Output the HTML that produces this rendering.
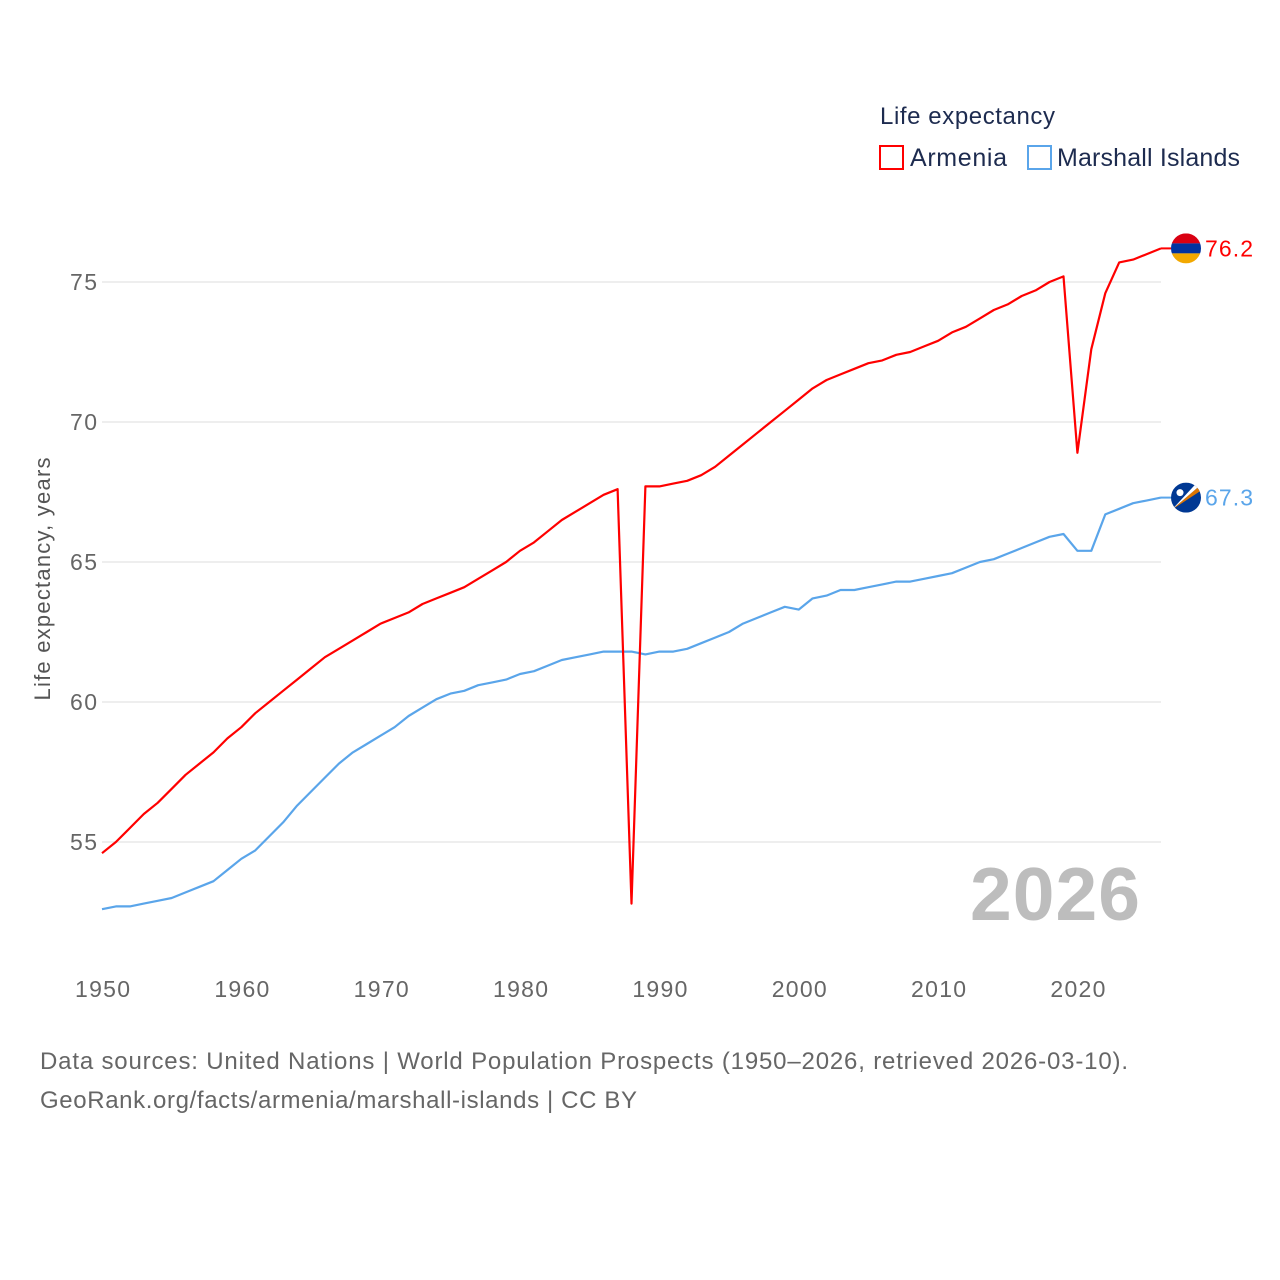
<!DOCTYPE html>
<html><head><meta charset="utf-8"><style>
body{margin:0;background:#fff;}
svg{display:block;font-family:"Liberation Sans",sans-serif;}
</style></head><body>
<svg id="chart" width="1280" height="1280">
<g id="grid"></g><g id="axes"></g><g id="lines"></g>
<text x="880" y="124" font-size="24" fill="#1d2b4f" textLength="175">Life expectancy</text>
<g><rect x="880" y="146" width="23" height="23" fill="none" stroke="#ff0000" stroke-width="2"/><text x="910" y="166" font-size="25" fill="#1d2b4f" textLength="97">Armenia</text></g>
<g><rect x="1028" y="146" width="23" height="23" fill="none" stroke="#5aa5ea" stroke-width="2"/><text x="1057" y="166" font-size="25" fill="#1d2b4f" textLength="183">Marshall Islands</text></g>
<text transform="translate(50,579) rotate(-90)" text-anchor="middle" font-size="22" fill="#555" textLength="243">Life expectancy, years</text>
<text x="1140" y="920" text-anchor="end" font-size="75" font-weight="bold" fill="#bdbdbd" textLength="170">2026</text>
<text x="40" y="1069" font-size="24" fill="#666" textLength="1088">Data sources: United Nations | World Population Prospects (1950–2026, retrieved 2026-03-10).</text>
<text x="40" y="1108" font-size="24" fill="#666" textLength="597">GeoRank.org/facts/armenia/marshall-islands | CC BY</text>
</svg>
<script>
const years=[];for(let y=1950;y<=2026;y++)years.push(y);
const armenia=[54.6,55.0,55.5,56.0,56.4,56.9,57.4,57.8,58.2,58.7,59.1,59.6,60.0,60.4,60.8,61.2,61.6,61.9,62.2,62.5,62.8,63.0,63.2,63.5,63.7,63.9,64.1,64.4,64.7,65.0,65.4,65.7,66.1,66.5,66.8,67.1,67.4,67.6,52.8,67.7,67.7,67.8,67.9,68.1,68.4,68.8,69.2,69.6,70.0,70.4,70.8,71.2,71.5,71.7,71.9,72.1,72.2,72.4,72.5,72.7,72.9,73.2,73.4,73.7,74.0,74.2,74.5,74.7,75.0,75.2,68.9,72.6,74.6,75.7,75.8,76.0,76.2];
const marshall=[52.6,52.7,52.7,52.8,52.9,53.0,53.2,53.4,53.6,54.0,54.4,54.7,55.2,55.7,56.3,56.8,57.3,57.8,58.2,58.5,58.8,59.1,59.5,59.8,60.1,60.3,60.4,60.6,60.7,60.8,61.0,61.1,61.3,61.5,61.6,61.7,61.8,61.8,61.8,61.7,61.8,61.8,61.9,62.1,62.3,62.5,62.8,63.0,63.2,63.4,63.3,63.7,63.8,64.0,64.0,64.1,64.2,64.3,64.3,64.4,64.5,64.6,64.8,65.0,65.1,65.3,65.5,65.7,65.9,66.0,65.4,65.4,66.7,66.9,67.1,67.2,67.3];
const yTicks=[55,60,65,70,75];
const xTicks=[1950,1960,1970,1980,1990,2000,2010,2020];
const X=y=>102+(y-1950)*(1161-102)/76;
const Y=v=>282+(75-v)*28;
const NS='http://www.w3.org/2000/svg';
function mk(tag,attrs,parent){const e=document.createElementNS(NS,tag);for(const k in attrs)e.setAttribute(k,attrs[k]);parent.appendChild(e);return e;}
const grid=document.getElementById('grid'),axes=document.getElementById('axes'),lines=document.getElementById('lines');
yTicks.forEach(t=>{
 const l=mk('line',{x1:102,x2:1161,y1:Y(t),y2:Y(t),stroke:'#e8e8e8','stroke-width':1.5},grid);
 
 
 const tx=mk('text',{x:97,y:Y(t)+8,'text-anchor':'end','font-size':23,fill:'#666',textLength:27},axes);tx.textContent=t;
 
 
});
xTicks.forEach(t=>{
 const tx=mk('text',{x:X(t)-27,y:997,'font-size':23,fill:'#666',textLength:55},axes);tx.textContent=t;
 
 
});
function line(vals,color,name){
 const d=vals.map((v,i)=>(i?'L':'M')+X(years[i]).toFixed(1)+','+Y(v).toFixed(1)).join('');
 const p=mk('path',{d:d,fill:'none',stroke:color,'stroke-width':2.2,'stroke-linejoin':'round'},lines);
 
 
}
line(marshall,'#5aa5ea','marshall-islands-line');
line(armenia,'#ff0000','armenia-line');
function endLabel(vals,color,name,flag){
 const v=vals[vals.length-1],x=X(years[years.length-1]),y=Y(v);
 mk('line',{x1:x,x2:x+10,y1:y,y2:y,stroke:color,'stroke-width':2},lines);
 const g=mk('g',{},lines);
 
 
 flag(g,1186,y);
 const t=mk('text',{x:1205,y:y+8,'font-size':23,fill:color,textLength:48},lines);t.textContent=v.toFixed(1);
 
 
}
endLabel(armenia,'#ff0000','armenia',(g,cx,cy)=>{
 const cp=mk('clipPath',{id:'cpA'},g);mk('circle',{cx:cx,cy:cy,r:15},cp);
 const h=mk('g',{'clip-path':'url(#cpA)'},g);
 mk('rect',{x:cx-15,y:cy-15,width:30,height:10,fill:'#d90012'},h);
 mk('rect',{x:cx-15,y:cy-5,width:30,height:10,fill:'#0033a0'},h);
 mk('rect',{x:cx-15,y:cy+5,width:30,height:10,fill:'#f2a800'},h);
});
endLabel(marshall,'#5aa5ea','marshall-islands',(g,cx,cy)=>{
 const cp=mk('clipPath',{id:'cpM'},g);mk('circle',{cx:cx,cy:cy,r:15},cp);
 const h=mk('g',{'clip-path':'url(#cpM)'},g);
 mk('rect',{x:cx-15,y:cy-15,width:30,height:30,fill:'#003893'},h);
 mk('polygon',{points:`${cx-14},${cy+12} ${cx+15},${cy-13} ${cx+15},${cy-7}`,fill:'#dd7500'},h);
 mk('polygon',{points:`${cx-14},${cy+12} ${cx+15},${cy-13} ${cx+11},${cy-15}`,fill:'#fff'},h);
 mk('circle',{cx:cx-6,cy:cy-5,r:3.5,fill:'#fff'},h);
});
</script>
</body></html>
